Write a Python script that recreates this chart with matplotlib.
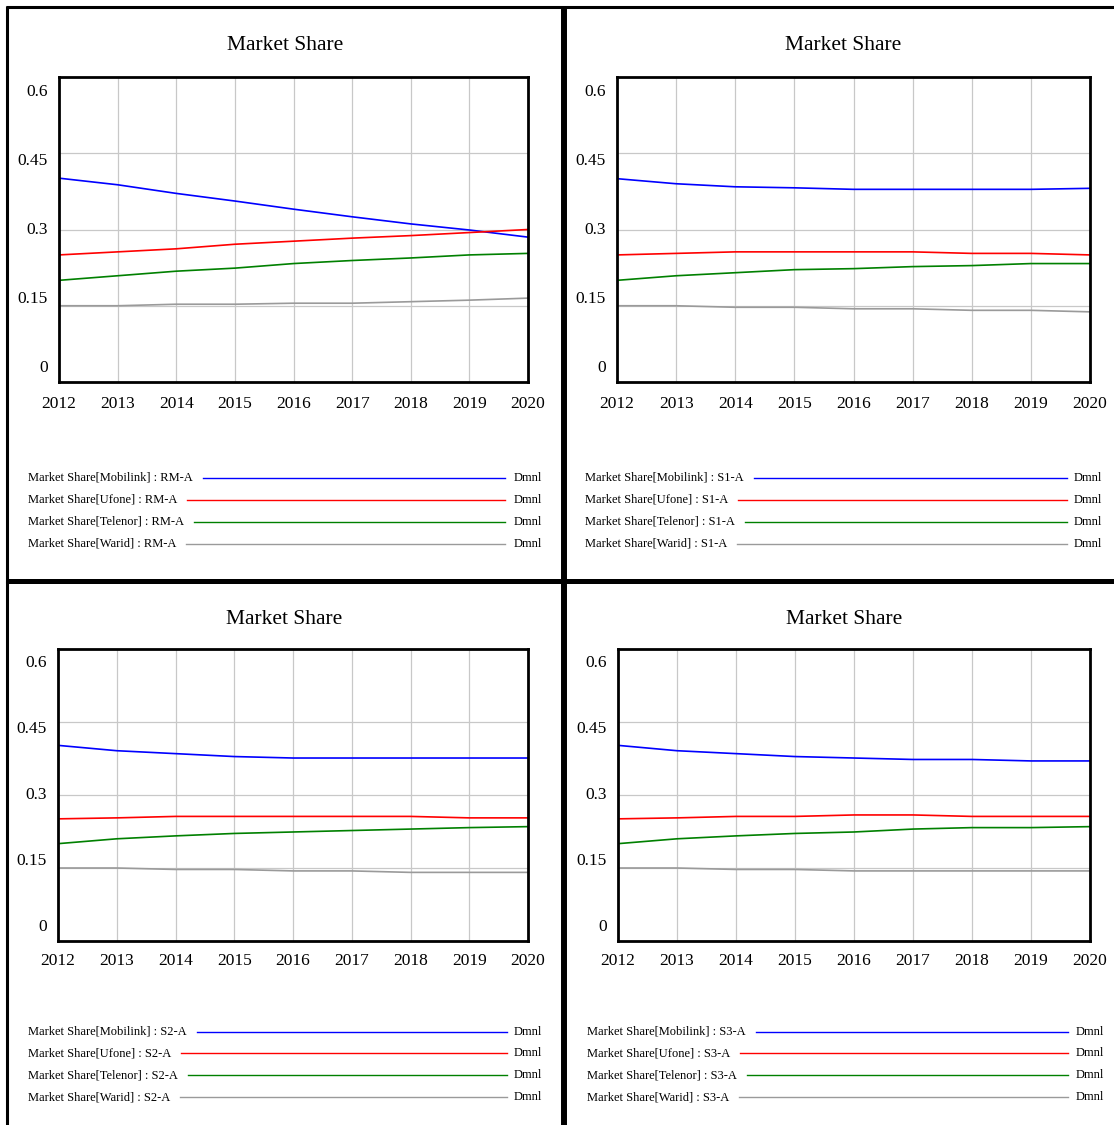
"""Market share of the four Pakistani operators under four scenarios (RM-A, S1-A, S2-A, S3-A),
drawn in the style of a Vensim 2x2 graph export."""
import matplotlib
matplotlib.use("Agg")
import matplotlib.pyplot as plt
from matplotlib.lines import Line2D

YEARS = [2012, 2013, 2014, 2015, 2016, 2017, 2018, 2019, 2020]
OPERATORS = ["Mobilink", "Ufone", "Telenor", "Warid"]
SCENARIOS = ["RM-A", "S1-A", "S2-A", "S3-A"]
Y_TICKS = [0, 0.15, 0.3, 0.45, 0.6]
Y_TICK_LABELS = ["0", "0.15", "0.3", "0.45", "0.6"]

# RM-A
RM_MOBILINK = [0.401, 0.388, 0.371, 0.356, 0.340, 0.325, 0.311, 0.299, 0.285]
RM_UFONE = [0.250, 0.256, 0.262, 0.271, 0.277, 0.283, 0.288, 0.294, 0.300]
RM_TELENOR = [0.200, 0.209, 0.218, 0.224, 0.233, 0.239, 0.244, 0.250, 0.253]
RM_WARID = [0.150, 0.150, 0.153, 0.153, 0.155, 0.155, 0.158, 0.161, 0.165]
# S1-A
S1_MOBILINK = [0.400, 0.390, 0.384, 0.382, 0.379, 0.379, 0.379, 0.379, 0.381]
S1_UFONE = [0.250, 0.253, 0.256, 0.256, 0.256, 0.256, 0.253, 0.253, 0.250]
S1_TELENOR = [0.200, 0.209, 0.215, 0.221, 0.223, 0.227, 0.229, 0.233, 0.233]
S1_WARID = [0.150, 0.150, 0.147, 0.147, 0.144, 0.144, 0.141, 0.141, 0.138]
# S2-A
S2_MOBILINK = [0.402, 0.391, 0.385, 0.379, 0.376, 0.376, 0.376, 0.376, 0.376]
S2_UFONE = [0.251, 0.253, 0.256, 0.256, 0.256, 0.256, 0.256, 0.253, 0.253]
S2_TELENOR = [0.200, 0.210, 0.216, 0.221, 0.224, 0.227, 0.230, 0.233, 0.235]
S2_WARID = [0.150, 0.150, 0.147, 0.147, 0.144, 0.144, 0.141, 0.141, 0.141]
# S3-A
S3_MOBILINK = [0.402, 0.391, 0.385, 0.379, 0.376, 0.373, 0.373, 0.370, 0.370]
S3_UFONE = [0.251, 0.253, 0.256, 0.256, 0.259, 0.259, 0.256, 0.256, 0.256]
S3_TELENOR = [0.200, 0.210, 0.216, 0.221, 0.224, 0.230, 0.233, 0.233, 0.235]
S3_WARID = [0.150, 0.150, 0.147, 0.147, 0.144, 0.144, 0.144, 0.144, 0.144]

SERIES = {
    "RM-A": [RM_MOBILINK, RM_UFONE, RM_TELENOR, RM_WARID],
    "S1-A": [S1_MOBILINK, S1_UFONE, S1_TELENOR, S1_WARID],
    "S2-A": [S2_MOBILINK, S2_UFONE, S2_TELENOR, S2_WARID],
    "S3-A": [S3_MOBILINK, S3_UFONE, S3_TELENOR, S3_WARID],
}
COLORS = ["#0000ff", "#ff0000", "#008000", "#9a9a9a"]

W, H = 1114, 1125
FONT = "Liberation Serif"
# layout in pixels: axes box (left, top, right, bottom), title centre, legend rows
PANELS = {
    "RM-A": dict(ax=(59, 77, 528, 382), title=(285, 46), xlab=403, leg_x=28, leg_y=[478, 500, 522, 544], leg_end=505, dmnl=542),
    "S1-A": dict(ax=(617, 77, 1090, 382), title=(843, 46), xlab=403, leg_x=585, leg_y=[478, 500, 522, 544], leg_end=1067, dmnl=1102),
    "S2-A": dict(ax=(58, 649, 528, 941), title=(284, 619), xlab=960, leg_x=28, leg_y=[1032, 1053, 1075, 1097], leg_end=507, dmnl=542),
    "S3-A": dict(ax=(618, 649, 1090, 941), title=(844, 619), xlab=960, leg_x=587, leg_y=[1032, 1053, 1075, 1097], leg_end=1068, dmnl=1104),
}


def fx(px): return px / W
def fy(py): return 1 - py / H


fig = plt.figure(figsize=(W / 100, H / 100), dpi=100)
fig.patch.set_facecolor("white")

legend_texts = []
for sc in SCENARIOS:
    p = PANELS[sc]
    l, t, r, b = p["ax"]
    ax = fig.add_axes([fx(l), fy(b), fx(r) - fx(l), fy(t) - fy(b)])
    for vals, col in zip(SERIES[sc], COLORS):
        ax.plot(YEARS, vals, color=col, lw=1.2, zorder=3)
    ax.set_xlim(YEARS[0], YEARS[-1]); ax.set_ylim(0, 0.6)
    ax.set_xticks(YEARS); ax.set_xticklabels([str(y) for y in YEARS])
    ax.set_yticks(Y_TICKS); ax.set_yticklabels([])
    ax.grid(color="#c8c8c8", lw=0.9, zorder=1)
    ax.tick_params(length=0, pad=(p["xlab"] - b - 7) * 0.72)
    for lab in ax.get_xticklabels():
        lab.set_fontfamily(FONT); lab.set_fontsize(12.5)
    for s in ax.spines.values():
        s.set_linewidth(2.0); s.set_zorder(5)
    # Vensim squeezes the y labels slightly inside the axis range
    for v, txt in zip(Y_TICKS, Y_TICK_LABELS):
        ax.text(-0.024, 0.047 + 0.905 * v / 0.6, txt, transform=ax.transAxes, ha="right", va="center",
                fontsize=12.5, family=FONT)
    fig.text(fx(p["title"][0]), fy(p["title"][1]), "Market Share", ha="center", va="center", fontsize=15.5, family=FONT)
    for op, col, yy in zip(OPERATORS, COLORS, p["leg_y"]):
        tx = fig.text(fx(p["leg_x"]), fy(yy), f"Market Share[{op}] : {sc}", ha="left", va="center", fontsize=9.0, family=FONT)
        fig.text(fx(p["dmnl"]), fy(yy), "Dmnl", ha="right", va="center", fontsize=9.0, family=FONT)
        legend_texts.append((tx, col, yy, p["leg_end"]))

# legend lines start just after each label
fig.canvas.draw()
rend = fig.canvas.get_renderer()
for tx, col, yy, x_end in legend_texts:
    x0 = tx.get_window_extent(rend).x1 + 10
    fig.add_artist(Line2D([x0 / W, fx(x_end)], [fy(yy), fy(yy)], transform=fig.transFigure, color=col, lw=1.0))

# panel frames
frame = dict(transform=fig.transFigure, color="black", solid_capstyle="butt")
fig.add_artist(Line2D([fx(6), 1], [fy(7), fy(7)], lw=2.2, **frame))
fig.add_artist(Line2D([fx(7), fx(7)], [fy(6), fy(583)], lw=2.2, **frame))
fig.add_artist(Line2D([fx(6.5), fx(6.5)], [fy(581), 0], lw=2.2, **frame))
fig.add_artist(Line2D([fx(564), fx(564)], [fy(6), 0], lw=4.3, **frame))
fig.add_artist(Line2D([fx(6), 1], [fy(580.5), fy(580.5)], lw=3.6, **frame))

fig.savefig("out.png", dpi=100)
